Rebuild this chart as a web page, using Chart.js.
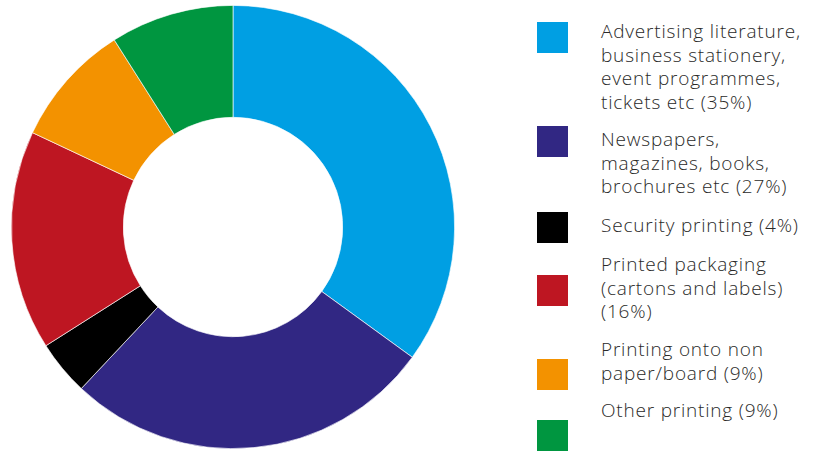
<!DOCTYPE html>
<html>
<head>
<meta charset="utf-8">
<script src="https://cdn.jsdelivr.net/npm/chart.js@4.4.1/dist/chart.umd.min.js"></script>
<style>
  html, body { margin: 0; padding: 0; background: #ffffff; }
  #wrap { position: relative; width: 827px; height: 452px; overflow: hidden; }
  #chartBox { position: absolute; left: 11px; top: 5px; width: 444px; height: 444px; }
  .swatch { position: absolute; left: 537px; width: 31px; height: 31px; }
  .entry { position: absolute; left: 601px; font-family: "Open Sans", sans-serif; font-size: 19px;
           font-weight: 350; letter-spacing: 0.8px;
           line-height: 23.5px; color: #2a2a29; white-space: nowrap; }
</style>
</head>
<body>
<div id="wrap">
  <div id="chartBox"><canvas id="c"></canvas></div>
  <div id="legend"></div>
</div>
<script>
// Share of printing output by product type (%)
const categories = [
  ["Advertising literature,", "business stationery,", "event programmes,", "tickets etc (35%)"],
  ["Newspapers,", "magazines, books,", "brochures etc (27%)"],
  ["Security printing (4%)"],
  ["Printed packaging", "(cartons and labels)", "(16%)"],
  ["Printing onto non", "paper/board (9%)"],
  ["Other printing (9%)"]
];
const shares = [35, 27, 4, 16, 9, 9];
const colours = ["#009fe3", "#312783", "#000000", "#be1622", "#f39200", "#009640"];

// Legend layout: swatch top and first-line top for each entry
const swatchTops = [22, 126, 212, 275, 359, 420];
const textTops = [20, 128, 214, 253, 338, 399];

const legend = document.getElementById("legend");
categories.forEach((lines, i) => {
  const sw = document.createElement("div");
  sw.className = "swatch";
  sw.style.top = swatchTops[i] + "px";
  sw.style.background = colours[i];
  legend.appendChild(sw);
  const tx = document.createElement("div");
  tx.className = "entry";
  tx.style.top = textTops[i] + "px";
  tx.innerHTML = lines.join("<br>");
  legend.appendChild(tx);
});

new Chart(document.getElementById("c"), {
  type: "doughnut",
  data: {
    labels: categories.map(l => l.join(" ")),
    datasets: [{
      data: shares,
      backgroundColor: colours,
      borderColor: "rgba(255,255,255,0.8)",
      borderWidth: 0.8,
      hoverOffset: 0
    }]
  },
  options: {
    responsive: true,
    maintainAspectRatio: false,
    animation: false,
    cutout: "49.5%",
    layout: { padding: 0 },
    plugins: { legend: { display: false }, tooltip: { enabled: false } }
  }
});
</script>
</body>
</html>
